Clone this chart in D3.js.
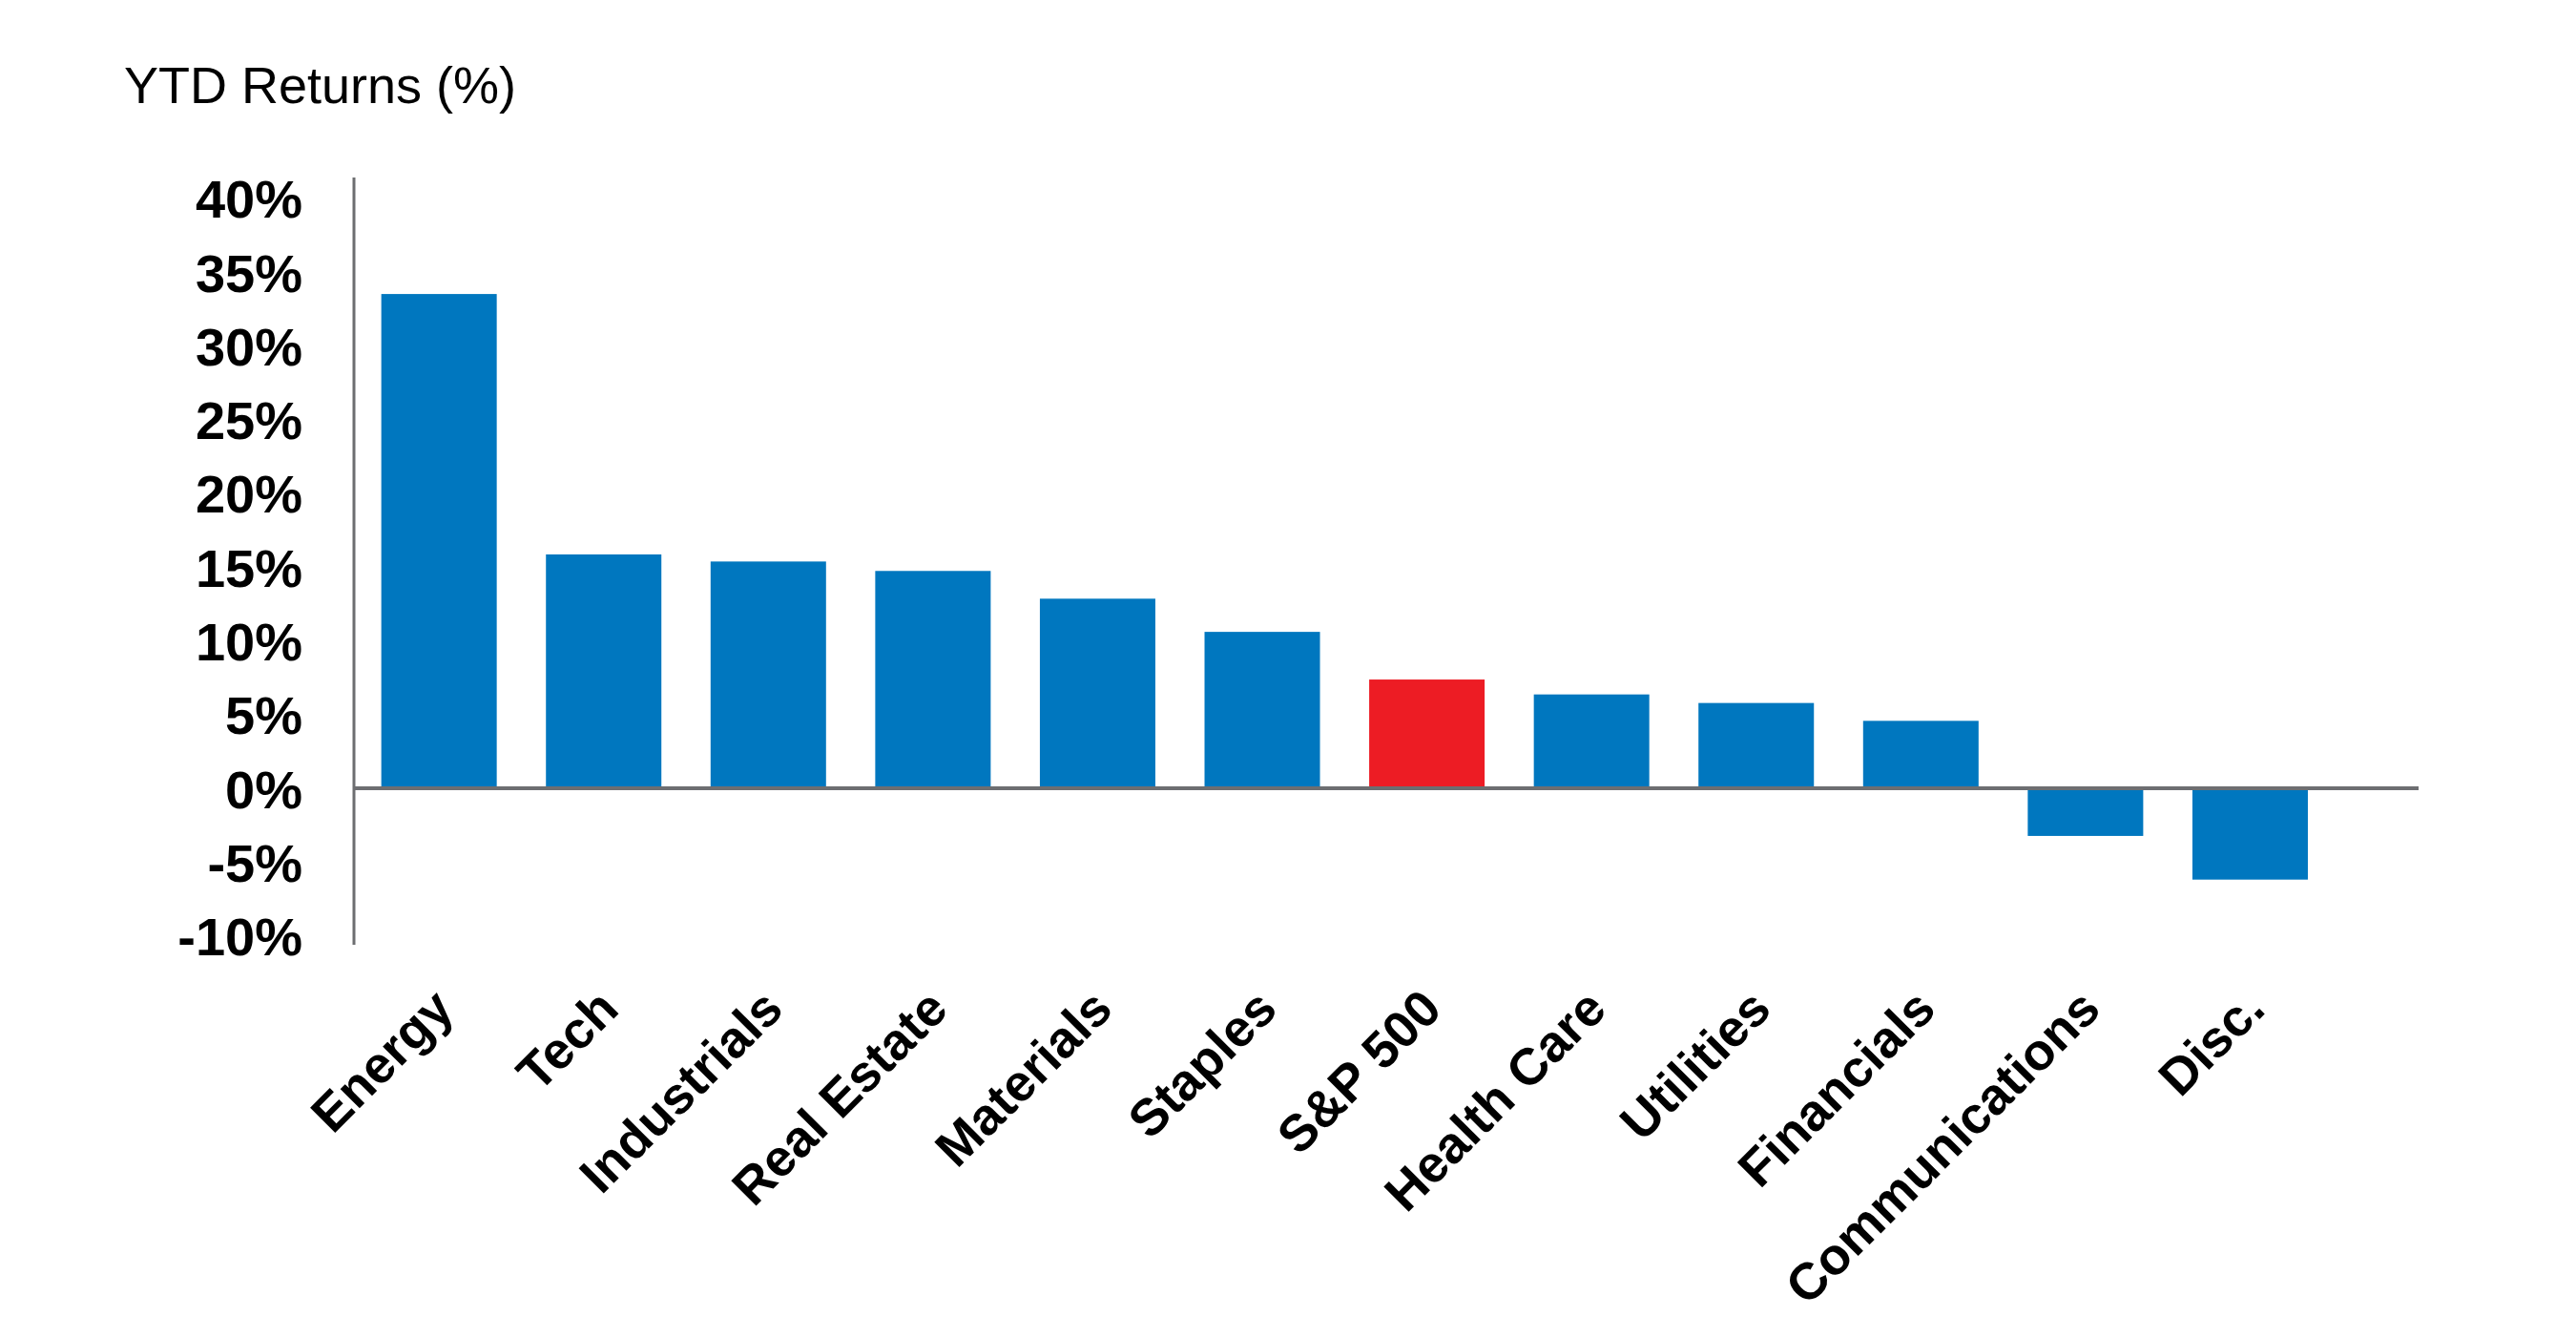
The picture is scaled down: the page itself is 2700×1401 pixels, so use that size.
<!DOCTYPE html>
<html>
<head>
<meta charset="utf-8">
<script src="https://cdn.jsdelivr.net/npm/d3@7"></script>
<style>
  html, body { margin: 0; padding: 0; background: #fff; }
  svg { display: block; font-family: "Liberation Sans", Arial, sans-serif; }
</style>
</head>
<body>
<div id="chart"></div>
<script>
// YTD sector returns
var sectors = ["Energy", "Tech", "Industrials", "Real Estate", "Materials", "Staples",
               "S&P 500", "Health Care", "Utilities", "Financials", "Communications", "Disc."];
var returns = [33.5, 15.85, 15.37, 14.73, 12.85, 10.6, 7.37, 6.36, 5.78, 4.57, -3.23, -6.19];
var benchmark = "S&P 500";
var yTicks = [40, 35, 30, 25, 20, 15, 10, 5, 0, -5, -10];

//// SETTINGS ///////////////////////////////////////////////////////////////////
var width = 2700,
    height = 1401;

var axis_x = 371,
    axis_top = 186,
    axis_bottom = 990,
    zero_right = 2535,
    label_y = 1060;

var blue = "#0077bf",
    red = "#ed1c24",
    grey = "#6d6e71";

//// SCALES /////////////////////////////////////////////////////////////////////
var x = d3.scaleBand()
    .domain(sectors)
    .range([axis_x, 2447.6])
    .paddingInner(0.2988)
    .paddingOuter(0.166);

var y = d3.scaleLinear()
    .domain([-10, 40])
    .range([980.6, 207.6]);

//// UI SETUP ///////////////////////////////////////////////////////////////////
var svg = d3.select("#chart").append("svg")
    .attr("width", width)
    .attr("height", height);

svg.append("rect")
    .attr("width", width)
    .attr("height", height)
    .attr("fill", "#fff");

// Title above the axis
svg.append("text")
    .attr("x", 130)
    .attr("y", 108)
    .style("font-size", "54px")
    .style("fill", "#000")
    .text("YTD Returns (%)");

// Bars
svg.append("g").selectAll("rect")
    .data(returns)
    .enter().append("rect")
    .attr("x", function(d, i) { return x(sectors[i]); })
    .attr("width", x.bandwidth())
    .attr("y", function(d) { return Math.min(y(d), y(0)); })
    .attr("height", function(d) { return Math.abs(y(d) - y(0)); })
    .attr("fill", function(d, i) { return sectors[i] === benchmark ? red : blue; });

// Y axis: tick labels only, the line is drawn by hand below
var yAxis = svg.append("g")
    .attr("transform", "translate(" + axis_x + ",0)")
    .call(d3.axisLeft(y)
        .tickValues(yTicks)
        .tickSize(0)
        .tickPadding(54)
        .tickFormat(function(d) { return d + "%"; }));

yAxis.select(".domain").remove();
yAxis.selectAll("text")
    .attr("dy", "0.36em")
    .style("font-family", "'Liberation Sans', Arial, sans-serif")
    .style("font-size", "56px")
    .style("font-weight", "bold")
    .style("fill", "#000");

svg.append("line")
    .attr("x1", axis_x).attr("x2", axis_x)
    .attr("y1", axis_top).attr("y2", axis_bottom)
    .attr("stroke", grey)
    .attr("stroke-width", 3);

// Zero line
svg.append("line")
    .attr("x1", axis_x).attr("x2", zero_right)
    .attr("y1", y(0)).attr("y2", y(0))
    .attr("stroke", grey)
    .attr("stroke-width", 4);

// X axis: rotated sector names
var xAxis = svg.append("g")
    .attr("transform", "translate(0," + label_y + ")")
    .call(d3.axisBottom(x).tickSize(0));

xAxis.select(".domain").remove();
xAxis.selectAll("text")
    .attr("x", 0)
    .attr("y", 0)
    .attr("dy", 0)
    .attr("transform", "translate(18,0) rotate(-45)")
    .style("text-anchor", "end")
    .style("font-family", "'Liberation Sans', Arial, sans-serif")
    .style("font-size", "54px")
    .style("font-weight", "bold")
    .style("fill", "#000");
</script>
</body>
</html>
